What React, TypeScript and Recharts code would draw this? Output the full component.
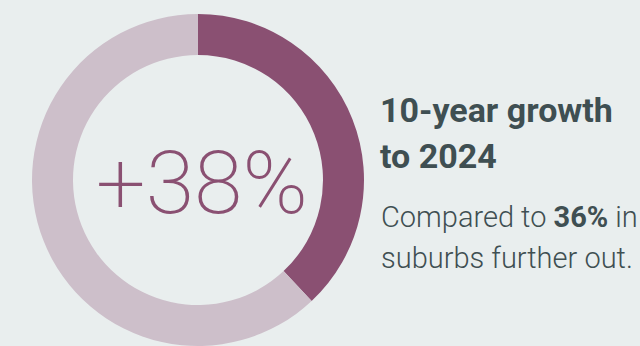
import React from 'react';
import { PieChart, Pie, Cell, Label } from 'recharts';

const categories = ['10-year growth', 'Remainder'];
const values = [38, 62];
const colors = ['#8a5072', '#cdbfca'];
const centerLabel = '+38%';
const titleLines = ['10-year growth', 'to 2024'];
const comparePrefix = 'Compared to ';
const compareValue = '36%';
const compareSuffix = ' in';
const compareLine2 = 'suburbs further out.';

const data = categories.map((name, i) => ({ name, value: values[i] }));

const BG = '#e9eeee';
const TEXT = '#3f4f52';

export default function App() {
  return (
    <div style={{ position: 'fixed', left: 0, top: 0, width: 640, height: 346, background: BG, overflow: 'hidden', fontFamily: 'Roboto, "Noto Sans", sans-serif' }}>
      <PieChart width={640} height={346} margin={{ top: 0, right: 0, bottom: 0, left: 0 }} style={{ position: 'absolute', left: 0, top: 0 }}>
        <Pie
          data={data}
          dataKey="value"
          nameKey="name"
          cx={198}
          cy={180}
          innerRadius={125}
          outerRadius={166}
          startAngle={90}
          endAngle={-270}
          stroke="none"
          isAnimationActive={false}
        >
          {data.map((d, i) => (
            <Cell key={d.name} fill={colors[i]} />
          ))}
          <Label
            position="center"
            content={() => (
              <text x={202} y={182} textAnchor="middle" dominantBaseline="central" fill="#8a5072" fontSize={88} fontWeight={200} fontFamily="Roboto, sans-serif">
                {centerLabel}
              </text>
            )}
          />
        </Pie>
      </PieChart>
      <div style={{ position: 'absolute', left: 380, top: 87, color: TEXT, fontSize: 34, fontWeight: 700, lineHeight: '46px', whiteSpace: 'nowrap' }}>
        {titleLines.map((t) => (
          <div key={t}>{t}</div>
        ))}
      </div>
      <div style={{ position: 'absolute', left: 381, top: 197, color: TEXT, fontSize: 29, fontWeight: 300, lineHeight: '41px', whiteSpace: 'nowrap' }}>
        <div>
          {comparePrefix}
          <span style={{ fontWeight: 700 }}>{compareValue}</span>
          {compareSuffix}
        </div>
        <div>{compareLine2}</div>
      </div>
    </div>
  );
}
